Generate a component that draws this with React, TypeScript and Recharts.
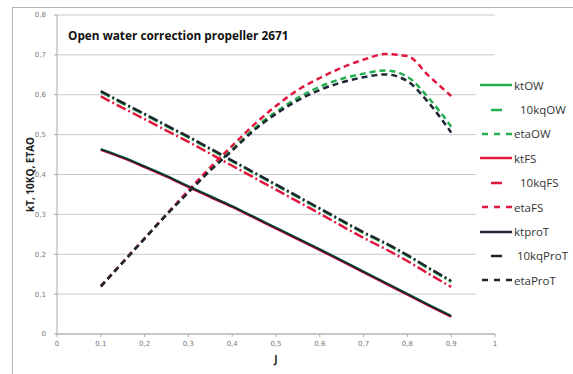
import { LineChart, Line, XAxis, YAxis, CartesianGrid, Legend } from "recharts";

const J = [0.1, 0.15, 0.2, 0.25, 0.3, 0.35, 0.4, 0.45, 0.5, 0.55, 0.6, 0.65, 0.7, 0.75, 0.8, 0.85, 0.9];

const ktOW = [0.464, 0.444, 0.421, 0.397, 0.371, 0.346, 0.321, 0.294, 0.267, 0.24, 0.213, 0.185, 0.157, 0.129, 0.101, 0.073, 0.046];
const kqOW10 = [0.607, 0.578, 0.55, 0.521, 0.493, 0.463, 0.433, 0.403, 0.373, 0.343, 0.313, 0.283, 0.253, 0.226, 0.196, 0.163, 0.131];
const etaOW = [0.12, 0.18, 0.24, 0.3, 0.357, 0.412, 0.463, 0.515, 0.557, 0.592, 0.62, 0.64, 0.653, 0.661, 0.645, 0.59, 0.52];

const ktFS = [0.461, 0.441, 0.418, 0.394, 0.368, 0.343, 0.318, 0.291, 0.264, 0.237, 0.21, 0.182, 0.154, 0.126, 0.098, 0.07, 0.043];
const kqFS10 = [0.596, 0.567, 0.539, 0.51, 0.482, 0.452, 0.422, 0.392, 0.362, 0.332, 0.302, 0.271, 0.241, 0.213, 0.183, 0.15, 0.118];
const etaFS = [0.12, 0.18, 0.24, 0.3, 0.36, 0.418, 0.472, 0.525, 0.572, 0.612, 0.642, 0.668, 0.688, 0.702, 0.697, 0.646, 0.597];

const ktProT = [0.463, 0.443, 0.42, 0.396, 0.37, 0.345, 0.32, 0.293, 0.266, 0.239, 0.212, 0.184, 0.156, 0.128, 0.1, 0.072, 0.045];
const kqProT10 = [0.609, 0.58, 0.552, 0.523, 0.495, 0.465, 0.435, 0.405, 0.375, 0.345, 0.315, 0.285, 0.255, 0.228, 0.198, 0.165, 0.133];
const etaProT = [0.119, 0.179, 0.239, 0.299, 0.355, 0.41, 0.46, 0.511, 0.552, 0.586, 0.612, 0.631, 0.644, 0.651, 0.634, 0.578, 0.505];

const xTicks = [0, 0.1, 0.2, 0.3, 0.4, 0.5, 0.6, 0.7, 0.8, 0.9, 1];
const yTicks = [0, 0.1, 0.2, 0.3, 0.4, 0.5, 0.6, 0.7, 0.8];

const GREEN = "#21b04f";
const RED = "#e0173f";
const DARK = "#1e2633";

const DASH_DOT = "10 3 2 3";
const DASHED = "6 4";

const series = [
  { key: "ktOW", values: ktOW, color: GREEN, dash: undefined, width: 2 },
  { key: "10kqOW", values: kqOW10, color: GREEN, dash: DASH_DOT, width: 2.5 },
  { key: "etaOW", values: etaOW, color: GREEN, dash: DASHED, width: 2.5 },
  { key: "ktFS", values: ktFS, color: RED, dash: undefined, width: 2 },
  { key: "10kqFS", values: kqFS10, color: RED, dash: DASH_DOT, width: 2.5 },
  { key: "etaFS", values: etaFS, color: RED, dash: DASHED, width: 2.5 },
  { key: "ktproT", values: ktProT, color: DARK, dash: undefined, width: 2 },
  { key: "10kqProT", values: kqProT10, color: DARK, dash: DASH_DOT, width: 2.5 },
  { key: "etaProT", values: etaProT, color: DARK, dash: DASHED, width: 2.5 },
];

const data = J.map((j, i) => {
  const row: Record<string, number> = { J: j };
  series.forEach((s) => {
    row[s.key] = s.values[i];
  });
  return row;
});

const fmt = (v: number) => (v === 0 ? "0" : String(v).replace(".", ","));

// legend samples: solid, single dash, "- -"
const sampleDash = (dash?: string) => {
  if (!dash) return { x1: 0, x2: 32, dash: undefined };
  if (dash === DASH_DOT) return { x1: 11, x2: 22, dash: undefined };
  return { x1: 2, x2: 32, dash: "6 6" };
};

function SideLegend() {
  return (
    <div style={{ background: "#fff", width: 92, paddingTop: 3, paddingBottom: 4 }}>
      {series.map((s) => {
        const smp = sampleDash(s.dash);
        return (
          <div key={s.key} style={{ display: "flex", alignItems: "center", height: 24.4 }}>
            <svg width={34} height={10} style={{ marginLeft: 4 }}>
              <line x1={smp.x1} x2={smp.x2} y1={5} y2={5} stroke={s.color} strokeWidth={2.5} strokeDasharray={smp.dash} />
            </svg>
            <span style={{ fontFamily: "'Open Sans', sans-serif", fontSize: 11.5, color: "#333", marginLeft: s.dash === DASH_DOT ? 6 : 0 }}>
              {s.key}
            </span>
          </div>
        );
      })}
    </div>
  );
}

export default function App() {
  return (
    <div style={{ position: "absolute", left: 0, top: 0, width: 573, height: 374, background: "#fff", overflow: "hidden" }}>
      <div style={{ position: "absolute", left: 12, top: 7, width: 575, height: 370, border: "1px solid #b5b5b5" }} />
      <div
        style={{
          position: "absolute",
          left: 68,
          top: 27,
          fontFamily: "'Open Sans', sans-serif",
          fontWeight: 700,
          fontSize: 11.8,
          color: "#111",
          zIndex: 2,
        }}
      >
        Open water correction propeller 2671
      </div>
      <LineChart width={573} height={374} data={data} margin={{ top: 15, right: 78, bottom: 10, left: 0 }}>
        <CartesianGrid horizontal vertical={false} stroke="#c9c9c9" />
        <XAxis
          type="number"
          dataKey="J"
          domain={[0, 1]}
          ticks={xTicks}
          tickFormatter={fmt}
          height={30}
          stroke="#aaa"
          tickSize={3}
          tickMargin={4}
          tick={{ fill: "#777", fontSize: 7, fontFamily: "'DejaVu Sans', sans-serif" }}
          label={{ value: "J", position: "insideBottom", offset: 1, fill: "#222", fontSize: 10, fontWeight: 700, fontFamily: "'Open Sans', sans-serif" }}
        />
        <YAxis
          type="number"
          domain={[0, 0.8]}
          ticks={yTicks}
          tickFormatter={fmt}
          width={57}
          stroke="#aaa"
          tickSize={3}
          tickMargin={8}
          tick={{ fill: "#777", fontSize: 7, fontFamily: "'DejaVu Sans', sans-serif" }}
          label={{
            value: "kT, 10KQ, ETAO",
            angle: -90,
            position: "insideLeft",
            offset: 30,
            fill: "#222",
            fontSize: 10,
            fontWeight: 700,
            fontFamily: "'Open Sans', sans-serif",
            style: { textAnchor: "middle" },
          }}
        />
        <Legend
          layout="vertical"
          align="center"
          verticalAlign="middle"
          wrapperStyle={{ left: 476, top: 70, width: 95 }}
          content={() => <SideLegend />}
        />
        {series.map((s) => (
          <Line
            key={s.key}
            type="monotone"
            dataKey={s.key}
            stroke={s.color}
            strokeWidth={s.width}
            strokeDasharray={s.dash}
            dot={false}
            activeDot={false}
            isAnimationActive={false}
          />
        ))}
      </LineChart>
    </div>
  );
}
